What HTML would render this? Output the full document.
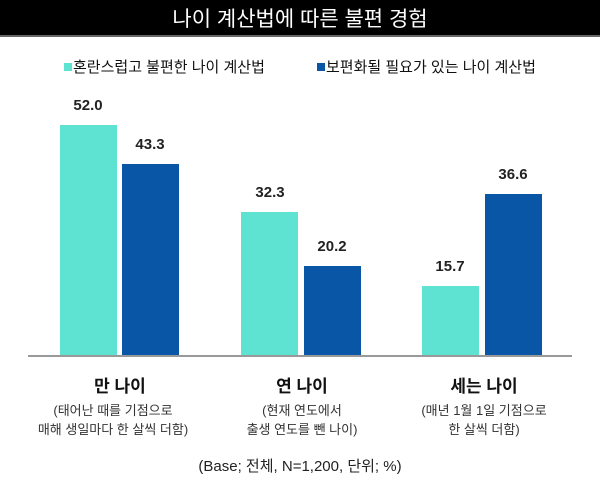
<!DOCTYPE html><html><head><meta charset="utf-8"><style>
body{margin:0;width:600px;height:489px;background:#fff;position:relative;overflow:hidden;font-family:"Liberation Sans","Noto Sans CJK KR",sans-serif;}
.t{position:absolute;white-space:nowrap;transform:translateX(-50%);}
.b{position:absolute;}
.v{font-weight:bold;font-size:15px;color:#222;}
</style></head><body>
<div style="position:absolute;left:0;top:0;width:600px;height:35px;background:#000;border-bottom:2px solid #666"></div>
<div class="t" style="left:300px;top:3px;color:#fff;font-size:21px;">나이 계산법에 따른 불편 경험</div>
<div class="b" style="left:64px;top:63px;width:8px;height:8px;background:#5ee3d3"></div>
<div style="position:absolute;left:73px;top:56px;font-size:15px;color:#111">혼란스럽고 불편한 나이 계산법</div>
<div class="b" style="left:317px;top:63px;width:8px;height:8px;background:#0a56a6"></div>
<div style="position:absolute;left:326px;top:56px;font-size:15px;color:#111">보편화될 필요가 있는 나이 계산법</div>

<div class="b" style="left:60px;top:125px;width:57px;height:231px;background:#5ee3d3"></div>
<div class="b" style="left:122px;top:164px;width:57px;height:192px;background:#0a56a6"></div>
<div class="b" style="left:241px;top:212px;width:57px;height:144px;background:#5ee3d3"></div>
<div class="b" style="left:304px;top:266px;width:57px;height:90px;background:#0a56a6"></div>
<div class="b" style="left:422px;top:286px;width:57px;height:70px;background:#5ee3d3"></div>
<div class="b" style="left:485px;top:194px;width:57px;height:162px;background:#0a56a6"></div>
<div class="b" style="left:28px;top:355px;width:544px;height:2px;background:#999"></div>

<div class="t v" style="left:88px;top:97px">52.0</div>
<div class="t v" style="left:150px;top:136px">43.3</div>
<div class="t v" style="left:270px;top:184px">32.3</div>
<div class="t v" style="left:332px;top:238px">20.2</div>
<div class="t v" style="left:450px;top:258px">15.7</div>
<div class="t v" style="left:513px;top:166px">36.6</div>

<div class="t" style="left:120px;top:372px;font-size:17px;font-weight:bold;color:#111">만 나이</div>
<div class="t" style="left:302px;top:372px;font-size:17px;font-weight:bold;color:#111">연 나이</div>
<div class="t" style="left:484px;top:372px;font-size:17px;font-weight:bold;color:#111">세는 나이</div>
<div class="t" style="left:113px;top:401px;font-size:13px;color:#333;text-align:center;line-height:19px">(태어난 때를 기점으로<br>매해 생일마다 한 살씩 더함)</div>
<div class="t" style="left:302px;top:401px;font-size:13px;color:#333;text-align:center;line-height:19px">(현재 연도에서<br>출생 연도를 뺀 나이)</div>
<div class="t" style="left:484px;top:401px;font-size:13px;color:#333;text-align:center;line-height:19px">(매년 1월 1일 기점으로<br>한 살씩 더함)</div>
<div class="t" style="left:300px;top:455px;font-size:15px;color:#222">(Base; 전체, N=1,200, 단위; %)</div>
</body></html>
